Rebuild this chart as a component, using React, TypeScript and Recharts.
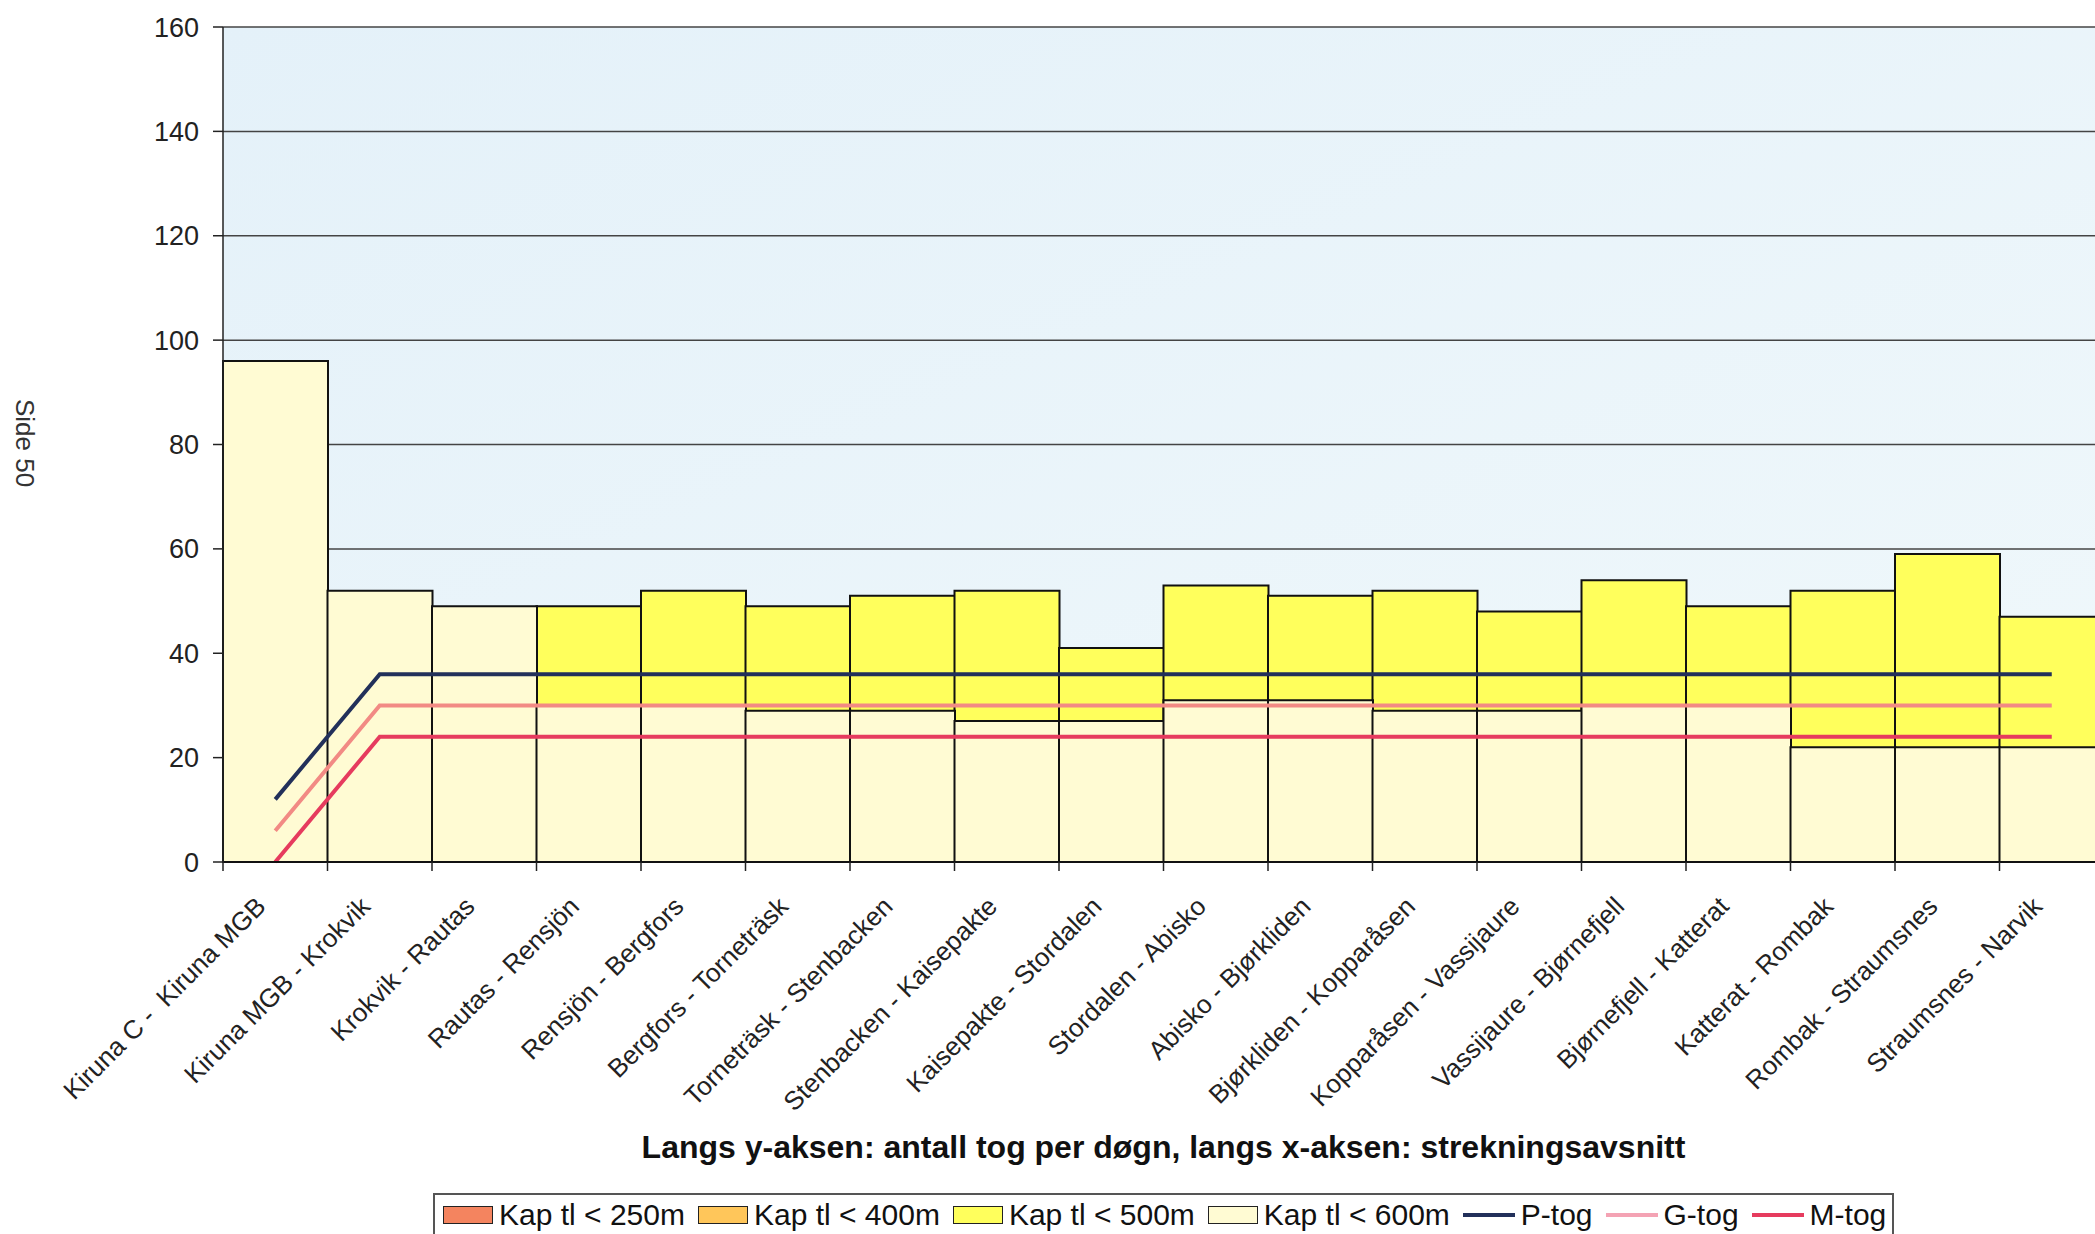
import React from "react";
import {
  ComposedChart,
  Bar,
  Line,
  XAxis,
  YAxis,
  CartesianGrid,
  Legend,
} from "recharts";

// Strekningsavsnitt (kategorier langs x-aksen)
const strekninger = [
  "Kiruna C -  Kiruna MGB",
  "Kiruna MGB - Krokvik",
  "Krokvik - Rautas",
  "Rautas - Rensjön",
  "Rensjön - Bergfors",
  "Bergfors - Torneträsk",
  "Torneträsk - Stenbacken",
  "Stenbacken - Kaisepakte",
  "Kaisepakte - Stordalen",
  "Stordalen - Abisko",
  "Abisko - Bjørkliden",
  "Bjørkliden - Kopparåsen",
  "Kopparåsen - Vassijaure",
  "Vassijaure - Bjørnefjell",
  "Bjørnefjell - Katterat",
  "Katterat - Rombak",
  "Rombak - Straumsnes",
  "Straumsnes - Narvik",
];

// Kapasitet (tog per døgn)
const kap500 = [null, null, null, 49, 52, 49, 51, 52, 41, 53, 51, 52, 48, 54, 49, 52, 59, 47];
const kap600 = [96, 52, 49, 30, 30, 29, 29, 27, 27, 31, 31, 29, 29, 30, 30, 22, 22, 22];

// Trafikk per togtype
const pTog = [12, 36, 36, 36, 36, 36, 36, 36, 36, 36, 36, 36, 36, 36, 36, 36, 36, 36];
const gTog = [6, 30, 30, 30, 30, 30, 30, 30, 30, 30, 30, 30, 30, 30, 30, 30, 30, 30];
const mTog = [0, 24, 24, 24, 24, 24, 24, 24, 24, 24, 24, 24, 24, 24, 24, 24, 24, 24];

const yTicks = [0, 20, 40, 60, 80, 100, 120, 140, 160];

const data = strekninger.map((name, i) => ({
  name,
  kap500: kap500[i],
  kap600: kap600[i],
  pTog: pTog[i],
  gTog: gTog[i],
  mTog: mTog[i],
}));

const font = "'Liberation Sans', Arial, sans-serif";

const colors = {
  kap250: "#F4845F",
  kap400: "#FFC65A",
  kap500: "#FFFF5C",
  kap600: "#FFFBD3",
  pTog: "#22305A",
  gTog: "#F28A84",
  mTog: "#E63B5E",
};

const legendItems = [
  { name: "Kap tl < 250m", color: colors.kap250, kind: "rect" },
  { name: "Kap tl < 400m", color: colors.kap400, kind: "rect" },
  { name: "Kap tl < 500m", color: colors.kap500, kind: "rect" },
  { name: "Kap tl < 600m", color: colors.kap600, kind: "rect" },
  { name: "P-tog", color: colors.pTog, kind: "line" },
  { name: "G-tog", color: "#F4A3B4", kind: "line" },
  { name: "M-tog", color: colors.mTog, kind: "line" },
];

// Skrå etiketter + tick-streker mellom kategoriene
function StrekningTick(props: any) {
  const { x, y, payload } = props;
  const half = payload.offset ?? 52;
  const tx = x - 8;
  const ty = y + 37;
  return (
    <g>
      <line x1={x - half} x2={x - half} y1={y - 9} y2={y} stroke="#222" strokeWidth={1.5} />
      <text
        x={tx}
        y={ty}
        transform={`rotate(-45, ${tx}, ${ty})`}
        textAnchor="end"
        fontSize={26}
        fill="#222"
        fontFamily={font}
        style={{ whiteSpace: "pre" }}
      >
        {payload.value}
      </text>
    </g>
  );
}

function ChartLegend() {
  return (
    <div
      style={{
        border: "2px solid #555",
        height: 70,
        boxSizing: "border-box",
        display: "flex",
        alignItems: "flex-start",
        paddingTop: 3,
        paddingLeft: 8,
        fontFamily: font,
        fontSize: 30,
        lineHeight: "33px",
        color: "#111",
        background: "#fff",
        whiteSpace: "nowrap",
      }}
    >
      {legendItems.map((it) => (
        <div key={it.name} style={{ display: "flex", alignItems: "center", marginRight: 13 }}>
          {it.kind === "rect" ? (
            <span
              style={{
                width: 50,
                height: 18,
                background: it.color,
                border: "1.5px solid #222",
                boxSizing: "border-box",
                display: "inline-block",
              }}
            />
          ) : (
            <span style={{ width: 52, height: 4, background: it.color, display: "inline-block" }} />
          )}
          <span style={{ marginLeft: 6 }}>{it.name}</span>
        </div>
      ))}
    </div>
  );
}

export default function App() {
  return (
    <div
      style={{
        position: "fixed",
        left: 0,
        top: 0,
        width: 2095,
        height: 1234,
        overflow: "hidden",
        background: "#fff",
      }}
    >
      <div
        style={{
          position: "absolute",
          left: 24,
          top: 443,
          transform: "translate(-50%, -50%) rotate(90deg)",
          fontFamily: font,
          fontSize: 26,
          color: "#333",
          whiteSpace: "nowrap",
        }}
      >
        Side 50
      </div>
      <ComposedChart
        width={2110}
        height={1234}
        data={data}
        margin={{ top: 27, right: 6, left: 0, bottom: 72 }}
        barCategoryGap={0}
        barGap={0}
      >
        <defs>
          <linearGradient id="plotBg" x1="0" y1="0" x2="1" y2="1">
            <stop offset="0%" stopColor="#E4F1F9" />
            <stop offset="100%" stopColor="#F0F8FB" />
          </linearGradient>
        </defs>
        <CartesianGrid
          vertical={false}
          stroke="#444"
          strokeWidth={1.5}
          fill="url(#plotBg)"
          fillOpacity={1}
        />
        <XAxis
          xAxisId="x"
          dataKey="name"
          height={300}
          interval={0}
          tickLine={false}
          tickSize={9}
          tickMargin={0}
          axisLine={{ stroke: "#111", strokeWidth: 2 }}
          tick={<StrekningTick />}
          label={{
            value: "Langs y-aksen: antall tog per døgn, langs x-aksen: strekningsavsnitt",
            position: "insideBottom",
            offset: 4,
            style: { fontSize: 32, fontWeight: 700, fill: "#111", fontFamily: font },
          }}
        />
        <XAxis xAxisId="over" dataKey="name" hide height={0} />
        <YAxis
          width={223}
          domain={[0, 160]}
          ticks={yTicks}
          interval={0}
          tickSize={10}
          tickMargin={14}
          axisLine={{ stroke: "#222", strokeWidth: 1.5 }}
          tickLine={{ stroke: "#222", strokeWidth: 1.5 }}
          tick={{ fontSize: 27, fill: "#222", fontFamily: font }}
        />
        <Bar
          xAxisId="x"
          dataKey="kap500"
          name="Kap tl < 500m"
          fill={colors.kap500}
          stroke="#111"
          strokeWidth={2}
          isAnimationActive={false}
        />
        <Bar
          xAxisId="over"
          dataKey="kap600"
          name="Kap tl < 600m"
          fill={colors.kap600}
          stroke="#111"
          strokeWidth={2}
          isAnimationActive={false}
        />
        <Line
          xAxisId="x"
          type="linear"
          dataKey="pTog"
          name="P-tog"
          stroke={colors.pTog}
          strokeWidth={4}
          dot={false}
          activeDot={false}
          isAnimationActive={false}
        />
        <Line
          xAxisId="x"
          type="linear"
          dataKey="gTog"
          name="G-tog"
          stroke={colors.gTog}
          strokeWidth={4}
          dot={false}
          activeDot={false}
          isAnimationActive={false}
        />
        <Line
          xAxisId="x"
          type="linear"
          dataKey="mTog"
          name="M-tog"
          stroke={colors.mTog}
          strokeWidth={4}
          dot={false}
          activeDot={false}
          isAnimationActive={false}
        />
        <Legend
          layout="horizontal"
          verticalAlign="middle"
          align="center"
          wrapperStyle={{ left: 433, top: 1193, width: 1461 }}
          content={() => <ChartLegend />}
        />
      </ComposedChart>
    </div>
  );
}
